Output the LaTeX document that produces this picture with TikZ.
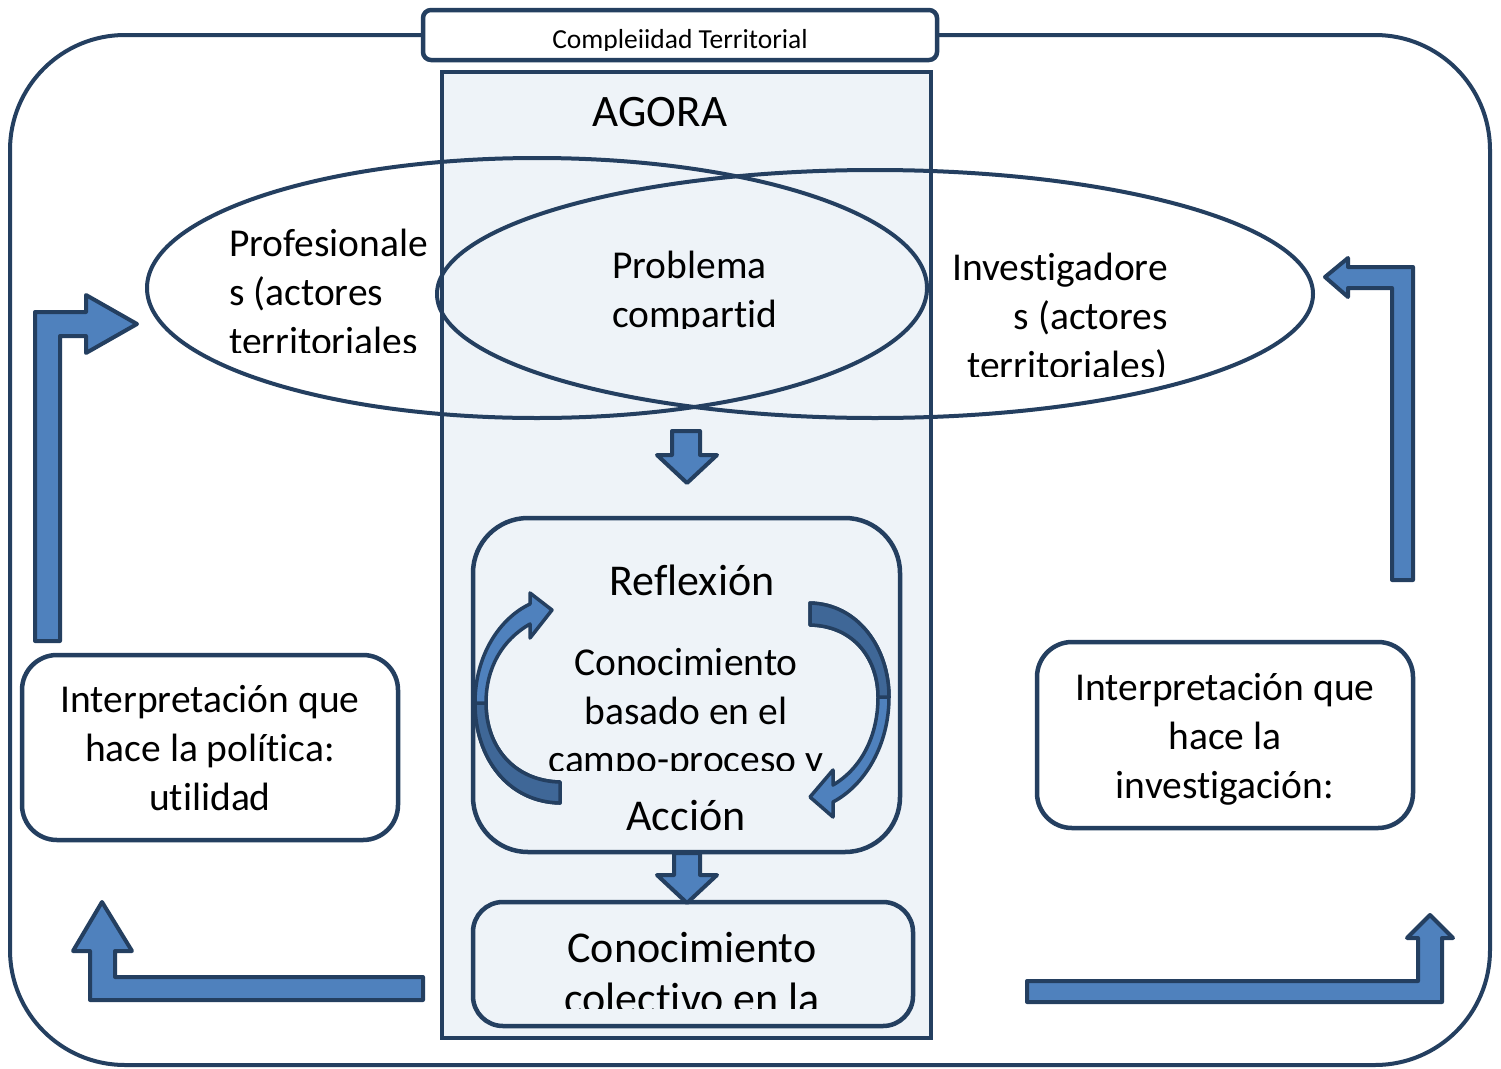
\documentclass[tikz,border=0pt]{standalone}
\usepackage{fontspec}
\setmainfont{Carlito}[Ligatures={NoCommon,NoRequired,NoContextual,NoRare}]
\usetikzlibrary{shapes.geometric}
\definecolor{navy}{HTML}{243F60}
\definecolor{accent}{HTML}{4F81BD}
\definecolor{accentdark}{HTML}{3F6797}
\definecolor{agora}{HTML}{EEF3F8}
\tikzset{
  frame/.style={draw=navy, line width=4pt, inner sep=0pt, outer sep=0pt},
  txt/.style={inner sep=0pt, font=\fontsize{39.5}{48}\selectfont},
  bigtxt/.style={inner sep=0pt, font=\fontsize{44}{52}\selectfont},
  blockarrow/.style={draw=navy, fill=accent, line width=4pt, line join=round},
  curvearrow/.style={draw=navy, fill=accent, line width=3.5pt, line join=round},
  curveback/.style={draw=navy, fill=accentdark, line width=3.5pt, line join=round},
}
\begin{document}
\begin{tikzpicture}[x=1pt, y=-1pt]
\useasboundingbox (0,0) rectangle (1501,1068);
\fill[white] (0,0) rectangle (1501,1068);

% outer frame
\node[frame, minimum width=1480pt, minimum height=1030pt, rounded corners=115pt] (outer) at (750,550) {};
% title box
\node[frame, line width=4.5pt, fill=white, minimum width=514pt, minimum height=50pt, rounded corners=8pt] (title) at (680,35) {};
\begin{scope}
  \clip (0,0) rectangle (1501,50);
  \node[inner sep=0pt, font=\fontsize{27.5}{33}\selectfont, anchor=base] (titletxt) at (680,48) {Compleiidad Territorial};
\end{scope}
% agora
\node[frame, line width=4.5pt, fill=agora, minimum width=489pt, minimum height=966pt] (agora) at (686.5,555) {};
\node[inner sep=0pt, font=\fontsize{45}{54}\selectfont, anchor=base] (agoratxt) at (660,126) {AGORA};

% ellipses
\node[frame, ellipse, minimum width=780pt, minimum height=260pt] (prof) at (537,288) {};
\node[frame, ellipse, minimum width=876pt, minimum height=248pt] (inv) at (875,294) {};

% ellipse texts
\begin{scope}
  \clip (0,0) rectangle (1501,352);
  \node[txt, anchor=base west] (p1) at (229,256) {Profesionale};
  \node[txt, anchor=base west] (p2) at (229,305) {s (actores};
  \node[txt, anchor=base west] (p3) at (229,354) {territoriales};
\end{scope}
\begin{scope}
  \clip (0,0) rectangle (1501,328);
  \node[txt, anchor=base west] (c1) at (612,278) {Problema};
  \node[txt, anchor=base west] (c2) at (612,327) {compartid};
\end{scope}
\begin{scope}
  \clip (0,0) rectangle (1501,376);
  \node[txt, anchor=base east] (i1) at (1168,280) {Investigadore};
  \node[txt, anchor=base east] (i2) at (1168,329) {s (actores};
  \node[txt, anchor=base east] (i3) at (1168,378) {territoriales)};
\end{scope}

% reflexion box
\node[frame, line width=4.5pt, minimum width=427pt, minimum height=334pt, rounded corners=55pt] (reflex) at (686.5,685) {};
\node[bigtxt, anchor=base] (reftxt) at (692,595) {Reflexión};
\begin{scope}
  \clip (0,0) rectangle (1501,770);
  \node[txt, anchor=base] (k1) at (686,675) {Conocimiento};
  \node[txt, anchor=base] (k2) at (686,724) {basado en el};
  \node[txt, anchor=base] (k3) at (686,772) {campo-proceso y};
\end{scope}
\node[bigtxt, anchor=base] (acctxt) at (686,830) {Acción};

% collective box
\node[frame, line width=4.5pt, minimum width=440pt, minimum height=124pt, rounded corners=30pt] (colect) at (693,964) {};
\begin{scope}
  \clip (0,0) rectangle (1501,1008);
  \node[bigtxt, anchor=base] (col1) at (692,962) {Conocimiento};
  \node[bigtxt, anchor=base] (col2) at (692,1013) {colectivo en la};
\end{scope}

% interpretation boxes
\node[frame, line width=4.5pt, fill=white, minimum width=376pt, minimum height=185pt, rounded corners=35pt] (interpL) at (210,747.5) {};
\node[txt, anchor=base] (l1) at (210,712) {Interpretación que};
\node[txt, anchor=base] (l2) at (210,761) {hace la política:};
\node[txt, anchor=base] (l3) at (210,810) {utilidad};
\node[frame, line width=4.5pt, fill=white, minimum width=376pt, minimum height=186pt, rounded corners=35pt] (interpR) at (1225,735) {};
\node[txt, anchor=base] (r1) at (1225,700) {Interpretación que};
\node[txt, anchor=base] (r2) at (1225,749) {hace la};
\node[txt, anchor=base] (r3) at (1225,798) {investigación:};

% bent block arrows
\draw[blockarrow] (35,641) -- (35,312) -- (86,312) -- (86,295) -- (137,324) -- (86,353) -- (86,336) -- (60,336) -- (60,641) -- cycle;
\draw[blockarrow] (1413,580) -- (1413,267) -- (1348,267) -- (1348,258) -- (1325,277) -- (1348,297) -- (1348,288) -- (1392,288) -- (1392,580) -- cycle;
\draw[blockarrow] (423,977) -- (115,977) -- (115,951) -- (132,951) -- (102,902) -- (73,951) -- (90,951) -- (90,1000) -- (423,1000) -- cycle;
\draw[blockarrow] (1027,981) -- (1418,981) -- (1418,938) -- (1407,938) -- (1430,915) -- (1453,938) -- (1442,938) -- (1442,1002) -- (1027,1002) -- cycle;

% down arrows
\draw[blockarrow] (672,431) -- (700,431) -- (700,455) -- (717,455) -- (687,483) -- (657,455) -- (672,455) -- cycle;
\draw[blockarrow] (674,853) -- (700,853) -- (700,875) -- (717,875) -- (687,903) -- (657,875) -- (674,875) -- cycle;

% curved arrows (left: up, right: down)
\draw[curvearrow] (560,803) .. controls (508,802) and (475,758) .. (475,703)
  .. controls (475,655) and (500,618) .. (530,604) -- (530,593) -- (552,610) -- (530,638) -- (530,624)
  .. controls (502,640) and (486,668) .. (486,703) .. controls (486,748) and (515,781) .. (560,782) -- cycle;
\draw[curveback] (475,703) .. controls (475,758) and (508,802) .. (560,803) -- (560,782)
  .. controls (515,781) and (486,748) .. (486,703) -- cycle;

\draw[curvearrow] (810,603) .. controls (858,604) and (889,648) .. (889,697)
  .. controls (889,745) and (865,785) .. (833,802) -- (833,817) -- (810,797) -- (833,770) -- (833,785)
  .. controls (862,768) and (878,735) .. (878,697) .. controls (878,660) and (855,626) .. (810,625) -- cycle;
\draw[curveback] (810,603) .. controls (858,604) and (889,648) .. (889,697) -- (878,697)
  .. controls (878,660) and (855,626) .. (810,625) -- cycle;
\end{tikzpicture}
\end{document}
